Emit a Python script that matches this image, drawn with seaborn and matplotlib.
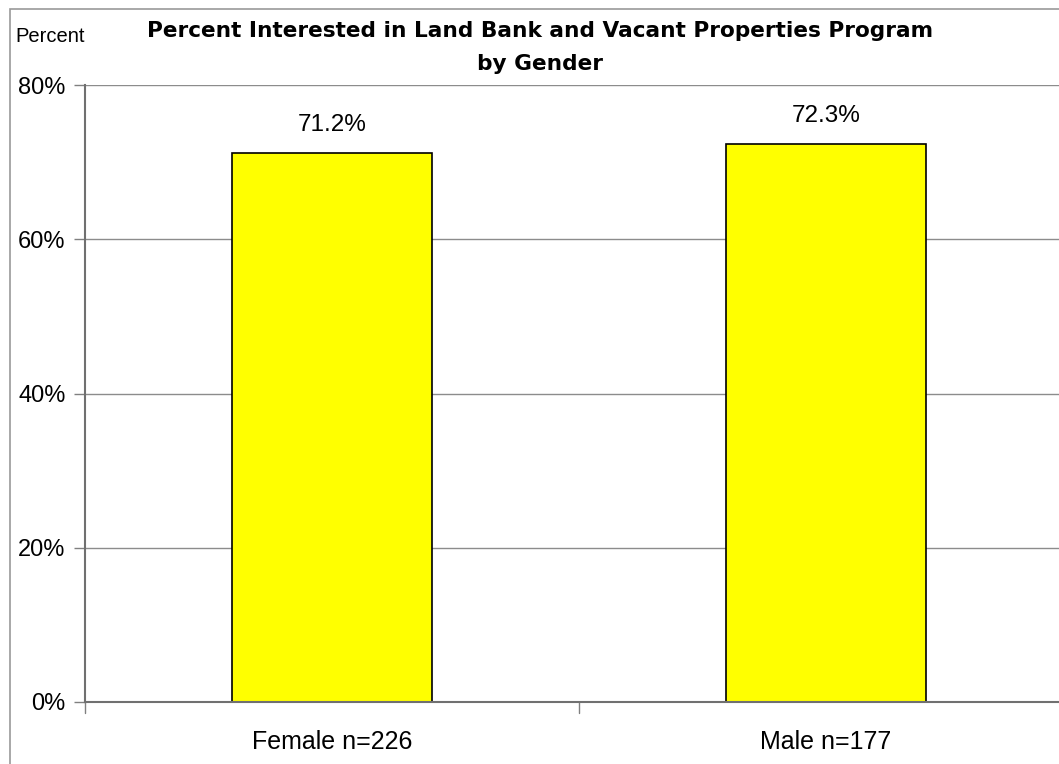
import matplotlib
matplotlib.use("Agg")
import matplotlib.pyplot as plt
import matplotlib.patches as mpatches
import pandas as pd
import seaborn as sns

categories = ["Female n=226", "Male n=177"]
values = [71.2, 72.3]
value_labels = ["71.2%", "72.3%"]
y_ticks = [0, 20, 40, 60, 80]
y_tick_labels = ["0%", "20%", "40%", "60%", "80%"]

sns.set_theme(style="white")
plt.rcParams["font.family"] = ["Liberation Sans", "DejaVu Sans"]
plt.rcParams["text.color"] = "black"
plt.rcParams["xtick.color"] = "black"
plt.rcParams["ytick.color"] = "black"
plt.rcParams["xtick.labelcolor"] = "black"
plt.rcParams["ytick.labelcolor"] = "black"

W, H = 1059, 764
fig = plt.figure(figsize=(W / 100, H / 100), dpi=100)

# chart-area border (extends past the right and bottom edges)
fig.patches.append(mpatches.Rectangle((10 / W, -0.1), 1.2, 1 - 9 / H + 0.1,
                                      transform=fig.transFigure, fill=False,
                                      edgecolor="#9a9a9a", linewidth=1.2))

ax = fig.add_axes([85 / W, 1 - 702 / H, (1073 - 85) / W, (702 - 85) / H])
df = pd.DataFrame({"group": categories, "pct": values})
sns.barplot(data=df, x="group", y="pct", ax=ax, color="#ffff00",
            saturation=1, width=0.403, edgecolor="black", linewidth=1.2)

ax.set_ylim(0, 80)
ax.set_xlim(-0.5, 1.5)
ax.set_yticks(y_ticks)
ax.set_yticklabels(y_tick_labels, fontsize=17)
ax.set_xlabel("")
ax.set_ylabel("")
ax.tick_params(axis="x", labelsize=18, length=0, pad=20, labelcolor="black")
ax.tick_params(axis="y", length=8, width=1, color="#808080", left=True, pad=6,
               labelcolor="black")
ax.set_axisbelow(True)
ax.yaxis.grid(True, color="#8c8c8c", linewidth=1)

for s in ["top", "right"]:
    ax.spines[s].set_visible(False)
for s in ["left", "bottom"]:
    ax.spines[s].set_color("#707070")
    ax.spines[s].set_linewidth(1.5)

# category boundary ticks on the x axis
for xb in [-0.5, 0.5, 1.5]:
    ax.plot([xb, xb], [0, -1.4], color="#808080", linewidth=1, clip_on=False)

for i, (v, lab) in enumerate(zip(values, value_labels)):
    ax.text(i, v + 2.2, lab, ha="center", va="bottom", fontsize=17.5, color="black")

title_font = dict(fontsize=15.6, fontweight="bold", family="DejaVu Sans", color="black")
fig.text(540 / W, 1 - 31 / H, "Percent Interested in Land Bank and Vacant Properties Program",
         ha="center", va="center", **title_font)
fig.text(540 / W, 1 - 64 / H, "by Gender", ha="center", va="center", **title_font)
fig.text(15 / W, 1 - 37 / H, "Percent", ha="left", va="center", fontsize=14.5,
         color="black")

fig.savefig("out.png", dpi=100)
